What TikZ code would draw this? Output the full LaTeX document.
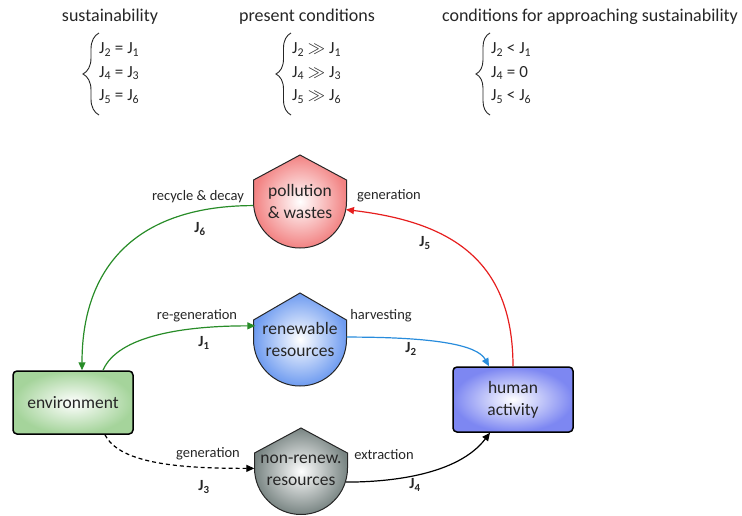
\documentclass[tikz,border=0pt]{standalone}
\usepackage{fontspec}
\setmainfont{Carlito}
\usetikzlibrary{arrows.meta,decorations.pathreplacing}
\definecolor{txt}{HTML}{262626}
\definecolor{gr}{RGB}{40,140,40}
\definecolor{rd}{RGB}{230,30,30}
\definecolor{bl}{RGB}{40,140,220}
\definecolor{polc}{RGB}{242,130,130}
\definecolor{renc}{RGB}{110,155,240}
\definecolor{nonc}{RGB}{120,132,130}
\definecolor{envc}{RGB}{165,212,155}
\definecolor{humc}{RGB}{125,135,242}
\newcommand{\shieldshape}[5]{%
  \begin{scope}[shift={(#1,-#2)}]
    \shadedraw[draw=black!85, line width=1pt, inner color=white, outer color=#5]
      (0,#3) -- (46.5,#4) -- (46.5,0) arc[start angle=0,end angle=-180,radius=46.5]
      -- (-46.5,#4) -- cycle;
  \end{scope}}
\tikzset{
  title/.style={text=txt, font=\fontsize{18}{21}\selectfont, inner sep=0pt},
  eqs/.style={text=txt, font=\fontsize{17}{23.5}\selectfont, align=left, anchor=west, inner sep=0pt},
  brc/.style={decorate, decoration={brace, amplitude=#1}, line width=0.9pt, draw=txt},
  res/.style={circle, minimum size=93pt, inner sep=0pt, align=center, text=txt,
    font=\fontsize{17.5}{22}\selectfont},
  boxn/.style={draw=black, line width=1.5pt, rounded corners=4pt, minimum width=120pt,
    align=center, text=txt, font=\fontsize{17.5}{22}\selectfont, inner color=white, outer color=#1},
  lbl/.style={text=txt, font=\fontsize{14.5}{17}\selectfont, inner sep=0pt},
  jl/.style={text=txt, font=\fontsize{15.5}{17}\selectfont\bfseries, inner sep=0pt},
  flow/.style={line width=1.2pt, -{Triangle[length=8pt,width=7pt]}},
}
\newcommand{\J}[1]{J\textsubscript{#1}}
\begin{document}
\begin{tikzpicture}[x=1pt,y=1pt]
\useasboundingbox (0,0) rectangle (742,-515);
% top equations
\node[title] (t1) at (110,-17) {sustainability};
\node[title] (t2) at (307,-17) {present conditions};
\node[title] (t3) at (590,-17) {conditions for approaching sustainability};
\draw[brc=16pt] (99,-115) -- (99,-33);
\node[eqs] (e1) at (99,-73) {\J2 = \J1\\\J4 = \J3\\\J5 = \J6};
\draw[brc=15pt] (291,-115) -- (291,-33);
\node[eqs] (e2) at (292,-73) {\J2 $\gg$ \J1\\\J4 $\gg$ \J3\\\J5 $\gg$ \J6};
\draw[brc=14pt] (490,-115) -- (490,-33);
\node[eqs] (e3) at (491,-73) {\J2 {\char`\<} \J1\\\J4 = 0\\\J5 {\char`\<} \J6};
% shapes
\shieldshape{300}{201.5}{46.5}{21.5}{polc}
\shieldshape{300}{339.5}{46.5}{19.5}{renc}
\shieldshape{301}{468}{40}{15}{nonc}
\node[res] (poll) at (300,-201.5) {pollution\\\& wastes};
\node[res] (ren) at (300,-339.5) {renewable\\resources};
\node[res] (nonr) at (301,-470) {non-renew.\\resources};
\node[boxn=envc, minimum height=63pt] (env) at (73,-402.5) {environment};
\node[boxn=humc, minimum height=65pt] (hum) at (513,-399.5) {human\\activity};
% flows
\draw[flow, gr] (poll.185) .. controls +(-110,0) and +(0,110) .. ([xshift=9pt]env.north);
\draw[flow, rd] (hum.north) .. controls +(0,110) and +(100,-12) .. (poll.-10);
\draw[flow, gr] ([xshift=30pt]env.north) .. controls +(15,35) and +(-70,0) .. (ren.163);
\draw[flow, bl] (ren.3) .. controls +(85,0) and +(-12,22) .. ([xshift=-24pt]hum.north);
\draw[flow, black, dash pattern=on 4pt off 3pt] ([xshift=32pt]env.south) .. controls +(15,-30) and +(-70,0) .. (nonr.178);
\draw[flow, black] (nonr.-15) .. controls +(45,0) and +(-32,-42) .. ([xshift=-23pt]hum.south);
% labels
\node[lbl] (l6) at (198,-197) {recycle \& decay};
\node[jl] (j6) at (200,-229) {\J6};
\node[lbl] (l5) at (389,-196) {generation};
\node[jl] (j5) at (425,-243) {\J5};
\node[lbl] (l1) at (197,-316) {re-generation};
\node[jl] (j1) at (204,-343) {\J1};
\node[lbl] (l2) at (381,-316) {harvesting};
\node[jl] (j2) at (411,-349) {\J2};
\node[lbl] (l3) at (208,-454) {generation};
\node[jl] (j3) at (204,-487) {\J3};
\node[lbl] (l4) at (384,-455) {extraction};
\node[jl] (j4) at (415,-485) {\J4};
\end{tikzpicture}
\end{document}
